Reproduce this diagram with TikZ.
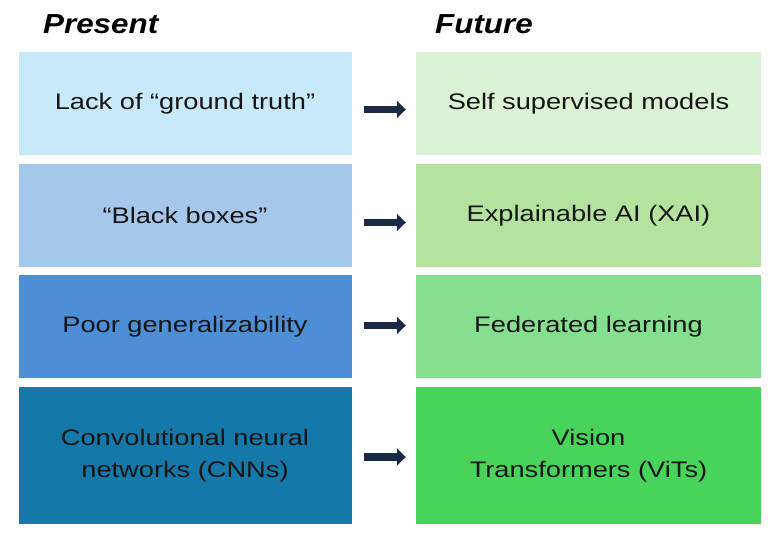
\documentclass[tikz,border=0pt]{standalone}
\usepackage{fontspec}
\setmainfont{Liberation Sans}
\newfontfamily\boxfont[FakeStretch=1.21]{Liberation Sans}
\newfontfamily\headfont[FakeStretch=1.14]{Liberation Sans}
\usetikzlibrary{arrows.meta}
\definecolor{lb1}{HTML}{C8E9FA}
\definecolor{lb2}{HTML}{A5C7EC}
\definecolor{lb3}{HTML}{4C8FD7}
\definecolor{lb4}{HTML}{1478A8}
\definecolor{rg1}{HTML}{DCF2D4}
\definecolor{rg2}{HTML}{B4E3A0}
\definecolor{rg3}{HTML}{84DF8E}
\definecolor{rg4}{HTML}{48D35B}
\definecolor{arr}{HTML}{1B2A44}
\definecolor{txt}{HTML}{151515}
\begin{document}
\begin{tikzpicture}[x=1pt,y=1pt,
  cell/.style={draw=none,inner sep=0pt,align=center,text=txt,
    font=\boxfont\fontsize{22.5}{31.5}\selectfont},
  lcell/.style={cell,minimum width=333pt},
  rcell/.style={cell,minimum width=345pt},
  head/.style={anchor=base west,inner sep=0pt,text=black,
    font=\headfont\fontsize{27.5}{30}\selectfont\bfseries\itshape},
  link/.style={draw=arr,line width=7.5pt,
    -{Triangle[length=9pt,width=17pt]},shorten <=12.5pt,shorten >=10pt}]
\useasboundingbox (0,0) rectangle (774,-539);
\fill[white] (0,0) rectangle (774,-539);
\node[head] (hp) at (43,-33) {Present};
\node[head] (hf) at (435,-33) {Future};
\node[lcell,fill=lb1,minimum height=103pt] (l1) at (185,-103.5) {\raisebox{-2pt}{Lack of “ground truth”}};
\node[lcell,fill=lb2,minimum height=103pt] (l2) at (185,-215.5) {\raisebox{-2pt}{“Black boxes”}};
\node[lcell,fill=lb3,minimum height=103pt] (l3) at (185,-326.5) {\raisebox{-2pt}{Poor generalizability}};
\node[lcell,fill=lb4,minimum height=137pt] (l4) at (185,-455.5) {\raisebox{-2pt}{Convolutional neural}\\\raisebox{-2pt}{networks (CNNs)}};
\node[rcell,fill=rg1,minimum height=103pt] (r1) at (588.5,-103.5) {\raisebox{-2pt}{Self supervised models}};
\node[rcell,fill=rg2,minimum height=103pt] (r2) at (588.5,-215.5) {\raisebox{-2pt}{Explainable AI (XAI)}};
\node[rcell,fill=rg3,minimum height=103pt] (r3) at (588.5,-326.5) {\raisebox{-2pt}{Federated learning}};
\node[rcell,fill=rg4,minimum height=137pt] (r4) at (588.5,-455.5) {\raisebox{-2pt}{Vision}\\\raisebox{-2pt}{Transformers (ViTs)}};
\draw[link] ([yshift=-6pt]l1.east) -- ([yshift=-6pt]r1.west);
\draw[link] ([yshift=-7pt]l2.east) -- ([yshift=-7pt]r2.west);
\draw[link] ([yshift=1pt]l3.east) -- ([yshift=1pt]r3.west);
\draw[link] ([yshift=-1.5pt]l4.east) -- ([yshift=-1.5pt]r4.west);
\end{tikzpicture}
\end{document}
